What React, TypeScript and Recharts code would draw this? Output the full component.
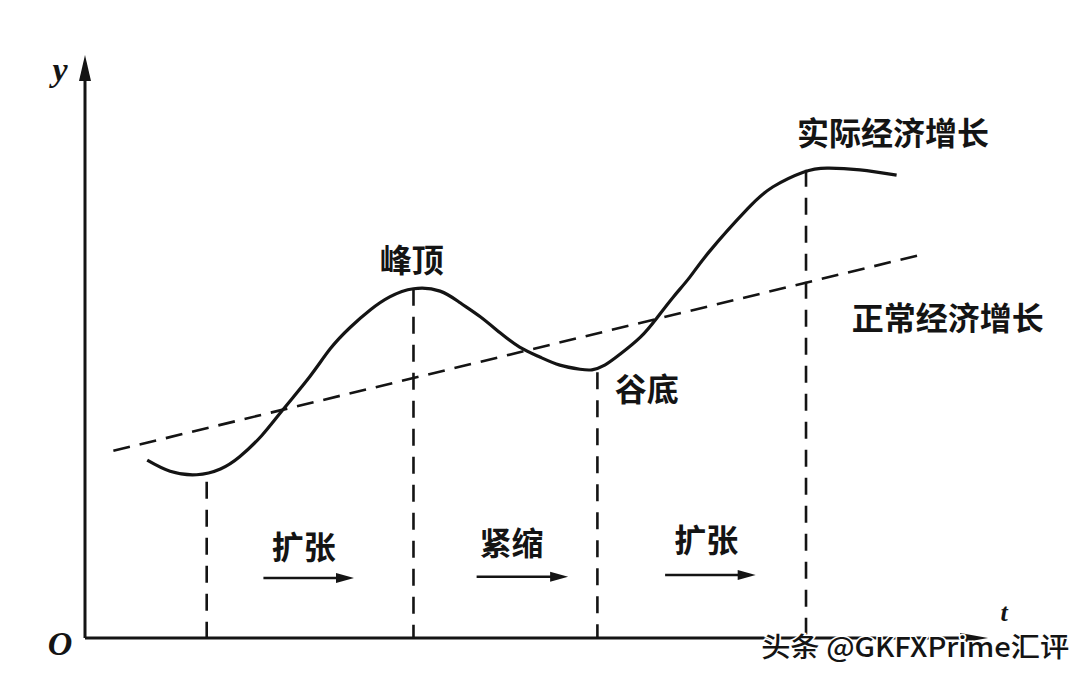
import React from 'react';
import { LineChart, Line, XAxis, YAxis, ReferenceDot, ReferenceLine } from 'recharts';

// Actual economic growth curve (t in time units 0..100, v in output units 0..100)
const actualT = [6.8, 9.3, 12.2, 14.8, 16.9, 19.3, 21.6, 24.6, 26.8, 29.0, 31.2, 33.3, 35.9, 38.8, 41.0, 43.2, 45.4, 47.5, 49.7, 51.9, 54.1, 55.4, 56.8, 58.5, 60.7, 62.5, 64.3, 66.1, 68.3, 72.4, 75.2, 78.5, 81.1, 84.7, 88.7];
const actualV = [30.5, 28.6, 28.0, 29.0, 31.1, 34.7, 39.1, 44.9, 49.6, 53.3, 56.3, 58.5, 59.9, 59.5, 57.5, 55.1, 52.3, 49.9, 48.2, 46.8, 46.1, 46.0, 46.8, 48.7, 51.6, 54.9, 58.5, 61.9, 66.4, 73.6, 77.4, 79.9, 80.6, 80.3, 79.4];

// Normal (trend) economic growth line
const normalT = [3.1, 91.8];
const normalV = [32.1, 65.9];

// Vertical marker lines (trough, peak, trough, peak)
const markerT = [13.3, 35.9, 56.0, 78.8];
const markerTop = [26.8, 59.9, 45.6, 80.3];

// Phase labels and arrows
const phaseLabels = ['扩张', '紧缩', '扩张'];
const phaseT = [23.9, 46.6, 67.9];
const phaseV = [16.0, 16.6, 17.2];
const arrowStart = [19.5, 42.8, 63.4];
const arrowEnd = [29.4, 52.8, 73.3];
const arrowV = [10.3, 10.5, 10.8];

// Curve annotations
const noteLabels = ['峰顶', '谷底', '实际经济增长', '正常经济增长'];
const noteT = [35.7, 61.4, 88.3, 94.3];
const noteV = [65.2, 43.1, 87.0, 55.2];

const axisTopV = 100;
const axisEndT = 98.7;

const INK = '#141414';
const CJK = '"Noto Sans CJK SC", "Noto Sans", sans-serif';

const actualData = actualT.map((t, i) => ({ t, v: actualV[i] }));
const normalData = normalT.map((t, i) => ({ t, v: normalV[i] }));

const textShape = (text: string, size: number, extra: any = {}) => (props: any) => (
  <text
    x={props.cx + (extra.dx || 0)}
    y={props.cy + (extra.dy || 0)}
    textAnchor="middle"
    dominantBaseline="central"
    fontFamily={extra.family || CJK}
    fontSize={size}
    fontWeight={extra.weight || 700}
    fontStyle={extra.style || 'normal'}
    fill={INK}
  >
    {text}
  </text>
);

const arrowRight = (len: number, half: number) => (props: any) => (
  <polygon
    points={`${props.cx},${props.cy} ${props.cx - len},${props.cy - half} ${props.cx - len},${props.cy + half}`}
    fill={INK}
  />
);

const arrowUp = (len: number, half: number) => (props: any) => (
  <polygon
    points={`${props.cx},${props.cy} ${props.cx - half},${props.cy + len} ${props.cx + half},${props.cy + len}`}
    fill={INK}
  />
);

const watermarkShape = (props: any) => (
  <text
    x={props.cx}
    y={props.cy + 7}
    dominantBaseline="central"
    fontFamily={CJK}
    fontSize={27}
    fontWeight={500}
    fill={INK}
    stroke="#ffffff"
    strokeWidth={3}
    paintOrder="stroke"
    textLength={308}
    lengthAdjust="spacingAndGlyphs"
  >
    头条 @GKFXPrime汇评
  </text>
);

export default function App() {
  return (
    <div style={{ position: 'absolute', left: 0, top: 0, width: 1092, height: 678, background: '#ffffff' }}>
      <LineChart
        width={1092}
        height={678}
        margin={{ top: 55, right: 92, bottom: 40, left: 85 }}
      >
        <XAxis type="number" dataKey="t" domain={[0, 100]} hide allowDataOverflow />
        <YAxis type="number" dataKey="v" domain={[0, 100]} hide allowDataOverflow />

        {/* axes */}
        <ReferenceLine
          segment={[{ x: 0, y: 0 }, { x: 0, y: axisTopV - 3 }]}
          stroke={INK}
          strokeWidth={3}
          ifOverflow="visible"
        />
        <ReferenceLine
          segment={[{ x: 0, y: 0 }, { x: axisEndT - 2, y: 0 }]}
          stroke={INK}
          strokeWidth={3}
          ifOverflow="visible"
        />
        <ReferenceDot x={0} y={axisTopV} ifOverflow="visible" shape={arrowUp(26, 6)} />
        <ReferenceDot x={axisEndT} y={0} ifOverflow="visible" shape={arrowRight(28, 5)} />

        {/* normal growth trend */}
        <Line
          data={normalData}
          dataKey="v"
          stroke={INK}
          strokeWidth={2.6}
          strokeDasharray="17 10"
          dot={false}
          activeDot={false}
          isAnimationActive={false}
          type="linear"
        />

        {/* vertical markers */}
        {markerT.map((t, i) => (
          <Line
            key={'m' + i}
            data={[{ t, v: markerTop[i] }, { t, v: 0 }]}
            dataKey="v"
            stroke={INK}
            strokeWidth={2.6}
            strokeDasharray="17 11"
            dot={false}
            activeDot={false}
            isAnimationActive={false}
            type="linear"
          />
        ))}

        {/* actual growth */}
        <Line
          data={actualData}
          dataKey="v"
          stroke={INK}
          strokeWidth={3.2}
          dot={false}
          activeDot={false}
          isAnimationActive={false}
          type="natural"
        />

        {/* phase arrows */}
        {arrowStart.map((s, i) => (
          <Line
            key={'a' + i}
            data={[{ t: s, v: arrowV[i] }, { t: arrowEnd[i] - 1.5, v: arrowV[i] }]}
            dataKey="v"
            stroke={INK}
            strokeWidth={2.4}
            dot={false}
            activeDot={false}
            isAnimationActive={false}
            type="linear"
          />
        ))}
        {arrowEnd.map((e, i) => (
          <ReferenceDot key={'ah' + i} x={e} y={arrowV[i]} ifOverflow="visible" shape={arrowRight(18, 5)} />
        ))}

        {/* phase labels */}
        {phaseLabels.map((lab, i) => (
          <ReferenceDot key={'p' + i} x={phaseT[i]} y={phaseV[i]} ifOverflow="visible" shape={textShape(lab, 32)} />
        ))}

        {/* notes */}
        {noteLabels.map((lab, i) => (
          <ReferenceDot key={'n' + i} x={noteT[i]} y={noteV[i]} ifOverflow="visible" shape={textShape(lab, 32)} />
        ))}

        {/* axis letters */}
        <ReferenceDot
          x={0}
          y={axisTopV}
          ifOverflow="visible"
          shape={textShape('y', 34, { dx: -25, dy: 14, family: '"Liberation Serif", "DejaVu Serif", serif', style: 'italic', weight: 700 })}
        />
        <ReferenceDot
          x={0}
          y={0}
          ifOverflow="visible"
          shape={textShape('O', 34, { dx: -25, dy: 5, family: '"Liberation Serif", "DejaVu Serif", serif', style: 'italic', weight: 700 })}
        />
        <ReferenceDot
          x={axisEndT}
          y={0}
          ifOverflow="visible"
          shape={textShape('t', 26, { dx: 16, dy: -26, family: '"Liberation Serif", "DejaVu Serif", serif', style: 'italic', weight: 700 })}
        />

        {/* watermark */}
        <ReferenceDot x={73.9} y={0} ifOverflow="visible" shape={watermarkShape} />
      </LineChart>
    </div>
  );
}
